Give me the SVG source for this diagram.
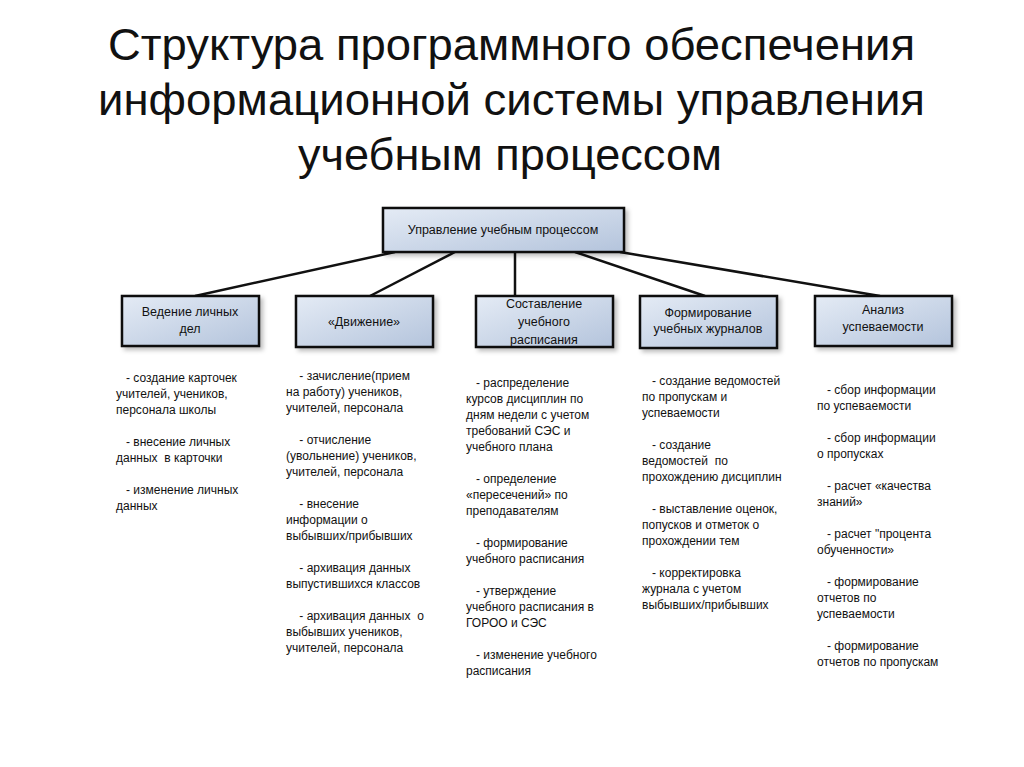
<svg xmlns="http://www.w3.org/2000/svg" width="1024" height="767" viewBox="0 0 1024 767">
<defs>
<linearGradient id="g" x1="0" y1="0" x2="1" y2="1"><stop offset="0" stop-color="#e4ebf5"/><stop offset="1" stop-color="#b4c4dc"/></linearGradient>
<filter id="sh" x="-10%" y="-10%" width="130%" height="140%"><feDropShadow dx="3" dy="3" stdDeviation="2" flood-color="#000" flood-opacity="0.25"/></filter>
</defs>
<style>
.b{fill:url(#g);stroke:#111;stroke-width:2.5;filter:url(#sh)}
.t{font-family:"Liberation Sans",Arial,sans-serif;font-size:12.5px;fill:#111;text-anchor:middle}
.l{font-family:"Liberation Sans",Arial,sans-serif;font-size:12px;fill:#111}
.h{font-family:"Liberation Sans",Arial,sans-serif;font-size:45px;fill:#111}
</style>
<rect width="1024" height="767" fill="#fff"/>
<text class="h" x="108" y="60" textLength="807" lengthAdjust="spacingAndGlyphs">Структура программного обеспечения</text>
<text class="h" x="98" y="115" textLength="827" lengthAdjust="spacingAndGlyphs">информационной системы управления</text>
<text class="h" x="298" y="170" textLength="424" lengthAdjust="spacingAndGlyphs">учебным процессом</text>
<g id="connectors" stroke="#111" stroke-width="2.5">
<line x1="395" y1="252" x2="195" y2="296"/>
<line x1="455" y1="252" x2="370" y2="296"/>
<line x1="515" y1="252" x2="515" y2="296"/>
<line x1="575" y1="252" x2="705" y2="296"/>
<line x1="620" y1="252" x2="880" y2="296"/>
</g>
<g id="root"><rect class="b" x="383" y="208" width="241" height="44"/><text class="t" x="503" y="234">Управление учебным процессом</text></g>
<g id="n1"><rect class="b" x="122" y="296" width="137" height="50"/><text class="t" x="190" y="316">Ведение личных</text><text class="t" x="190" y="333">дел</text></g>
<g id="n2"><rect class="b" x="296" y="296" width="137" height="51"/><text class="t" x="364" y="326">«Движение»</text></g>
<g id="n3"><rect class="b" x="476" y="296" width="137" height="51"/><text class="t" x="544" y="308">Составление</text><text class="t" x="544" y="326">учебного</text><text class="t" x="544" y="344">расписания</text></g>
<g id="n4"><rect class="b" x="640" y="296" width="137" height="52"/><text class="t" x="708" y="317">Формирование</text><text class="t" x="708" y="333">учебных журналов</text></g>
<g id="n5"><rect class="b" x="815" y="296" width="137" height="50"/><text class="t" x="883" y="314">Анализ</text><text class="t" x="883" y="331">успеваемости</text></g>
<g id="list1">
<text class="l" x="116" y="382" xml:space="preserve">   - создание карточек</text>
<text class="l" x="116" y="398">учителей, учеников,</text>
<text class="l" x="116" y="414">персонала школы</text>
<text class="l" x="116" y="446" xml:space="preserve">   - внесение личных</text>
<text class="l" x="116" y="462" xml:space="preserve">данных  в карточки</text>
<text class="l" x="116" y="494" xml:space="preserve">   - изменение личных</text>
<text class="l" x="116" y="510">данных</text>
</g>
<g id="list2">
<text class="l" x="286" y="380" xml:space="preserve">    - зачисление(прием</text>
<text class="l" x="286" y="396">на работу) учеников,</text>
<text class="l" x="286" y="412">учителей, персонала</text>
<text class="l" x="286" y="444" xml:space="preserve">    - отчисление</text>
<text class="l" x="286" y="460">(увольнение) учеников,</text>
<text class="l" x="286" y="476">учителей, персонала</text>
<text class="l" x="286" y="508" xml:space="preserve">    - внесение</text>
<text class="l" x="286" y="524">информации о</text>
<text class="l" x="286" y="540">выбывших/прибывших</text>
<text class="l" x="286" y="572" xml:space="preserve">    - архивация данных</text>
<text class="l" x="286" y="588">выпустившихся классов</text>
<text class="l" x="286" y="620" xml:space="preserve">    - архивация данных  о</text>
<text class="l" x="286" y="636">выбывших учеников,</text>
<text class="l" x="286" y="652">учителей, персонала</text>
</g>
<g id="list3">
<text class="l" x="466" y="387" xml:space="preserve">   - распределение</text>
<text class="l" x="466" y="403">курсов дисциплин по</text>
<text class="l" x="466" y="419">дням недели с учетом</text>
<text class="l" x="466" y="435">требований СЭС и</text>
<text class="l" x="466" y="451">учебного плана</text>
<text class="l" x="466" y="483" xml:space="preserve">   - определение</text>
<text class="l" x="466" y="499">«пересечений» по</text>
<text class="l" x="466" y="515">преподавателям</text>
<text class="l" x="466" y="547" xml:space="preserve">   - формирование</text>
<text class="l" x="466" y="563">учебного расписания</text>
<text class="l" x="466" y="595" xml:space="preserve">   - утверждение</text>
<text class="l" x="466" y="611">учебного расписания в</text>
<text class="l" x="466" y="627">ГОРОО и СЭС</text>
<text class="l" x="466" y="659" xml:space="preserve">   - изменение учебного</text>
<text class="l" x="466" y="675">расписания</text>
</g>
<g id="list4">
<text class="l" x="642" y="385" xml:space="preserve">   - создание ведомостей</text>
<text class="l" x="642" y="401">по пропускам и</text>
<text class="l" x="642" y="417">успеваемости</text>
<text class="l" x="642" y="449" xml:space="preserve">   - создание</text>
<text class="l" x="642" y="465" xml:space="preserve">ведомостей  по</text>
<text class="l" x="642" y="481">прохождению дисциплин</text>
<text class="l" x="642" y="513" xml:space="preserve">   - выставление оценок,</text>
<text class="l" x="642" y="529">попусков и отметок о</text>
<text class="l" x="642" y="545">прохождении тем</text>
<text class="l" x="642" y="577" xml:space="preserve">   - корректировка</text>
<text class="l" x="642" y="593">журнала с учетом</text>
<text class="l" x="642" y="609">выбывших/прибывших</text>
</g>
<g id="list5">
<text class="l" x="817" y="394" xml:space="preserve">   - сбор информации</text>
<text class="l" x="817" y="410">по успеваемости</text>
<text class="l" x="817" y="442" xml:space="preserve">   - сбор информации</text>
<text class="l" x="817" y="458">о пропусках</text>
<text class="l" x="817" y="490" xml:space="preserve">   - расчет «качества</text>
<text class="l" x="817" y="506">знаний»</text>
<text class="l" x="817" y="538" xml:space="preserve">   - расчет "процента</text>
<text class="l" x="817" y="554">обученности»</text>
<text class="l" x="817" y="586" xml:space="preserve">   - формирование</text>
<text class="l" x="817" y="602">отчетов по</text>
<text class="l" x="817" y="618">успеваемости</text>
<text class="l" x="817" y="650" xml:space="preserve">   - формирование</text>
<text class="l" x="817" y="666">отчетов по пропускам</text>
</g>
</svg>
